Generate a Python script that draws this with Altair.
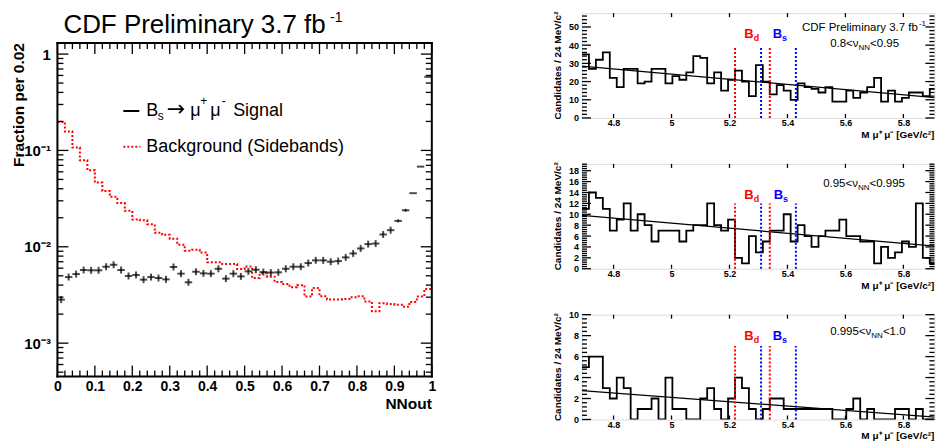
import altair as alt
import pandas as pd

FONT = "Liberation Sans"
RED = "#ff0000"
BLUE = "#0000ff"

# ---------------- left panel: NN output (fraction per 0.02) ----------------
nn_bin_width = 0.02
nn_bin_lo = [round(0.02 * i, 2) for i in range(50)]
signal_frac = [0.00283, 0.00485, 0.00521, 0.00574, 0.0057, 0.0057, 0.00621, 0.00651, 0.00574, 0.00498,
               0.0051, 0.00456, 0.00485, 0.00474, 0.00459, 0.00617, 0.00526, 0.00428, 0.00551, 0.0053,
               0.00526, 0.00591, 0.00467, 0.00526, 0.00493, 0.00556, 0.00578, 0.00547, 0.0054, 0.00543,
               0.00591, 0.00621, 0.00621, 0.00678, 0.00723, 0.00723, 0.0070, 0.00711, 0.00776, 0.00853,
               0.00961, 0.01066, 0.0108, 0.01342, 0.01487, 0.01856, 0.02393, 0.036, 0.0679, 0.58]
background_frac = [0.197, 0.157, 0.107, 0.079, 0.0623, 0.0464, 0.038, 0.033, 0.0284, 0.0236,
                   0.0192, 0.0188, 0.0171, 0.0140, 0.0133, 0.0121, 0.0105, 0.0091, 0.0093, 0.0087,
                   0.00689, 0.00689, 0.00662, 0.00662, 0.00588, 0.00626, 0.00474, 0.0053, 0.0049, 0.0043,
                   0.0041, 0.0038, 0.0040, 0.00304, 0.00374, 0.00306, 0.00283, 0.00283, 0.00287, 0.0030,
                   0.00306, 0.0027, 0.00214, 0.0026, 0.00255, 0.0025, 0.00239, 0.00268, 0.00304, 0.00365]
nn_labels = [0, 0.1, 0.2, 0.3, 0.4, 0.5, 0.6, 0.7, 0.8, 0.9, 1.0]
frac_labels = [0.001, 0.01, 0.1, 1]

# ---------------- right panels: dimuon mass (candidates / 24 MeV) ----------------
mass_bin_start = 4.691
mass_bin_width = 0.024
mass_view = [4.691, 5.907]
counts_080_095 = [35, 27, 32, 36, 22, 17, 27, 27, 19, 20, 27, 27, 19, 23, 21, 25, 34, 33, 19, 25,
                  15, 21, 26, 20, 12, 29, 20, 13, 18, 15, 10, 19, 17, 16, 14, 17, 9, 9, 15, 11,
                  14, 17, 22, 9, 15, 9, 11, 14, 14, 12, 16, 14, 11]
counts_095_0995 = [11, 14, 13, 11, 7, 9, 12, 7, 10, 8, 5, 7, 7, 7, 5, 7, 8, 8, 12, 8,
                   7, 9, 2, 1, 6, 3, 5, 7, 7, 10, 5, 8, 6, 4, 6, 7, 7, 9, 6, 6,
                   5, 5, 1, 4, 2, 3, 5, 4, 12, 2, 1, 7, 5]
counts_0995_1 = [5, 6, 6, 3, 2, 4, 3, 0, 1, 1, 2, 0, 4, 1, 1, 0, 0, 2, 3, 1,
                 0, 2, 4, 3, 1, 0, 1, 2, 2, 1, 1, 1, 1, 1, 1, 1, 0, 0, 1, 2,
                 0, 1, 0, 0, 0, 1, 1, 0, 1, 0, 0, 0, 0]
fit_mass = [4.691, 5.942]
fit_080_095 = [28.5, 10.7]
fit_095_0995 = [9.8, 4.0]
fit_0995_1 = [2.75, 0.15]
bd_window = [5.219, 5.339]
bs_window = [5.309, 5.429]
window_line_top = [39.5, 12.0, 7.0]
mass_labels = [4.8, 5.0, 5.2, 5.4, 5.6, 5.8]
ymax_panels = [57.6, 19.25, 10.0]
ylabels_panels = [[0, 10, 20, 30, 40, 50],
                  [0, 2, 4, 6, 8, 10, 12, 14, 16, 18],
                  [0, 2, 4, 6, 8, 10]]
yminor_step = [2, 0.4, 0.4]
range_text = [("0.8<\u03bd", "<0.95"), ("0.95<\u03bd", "<0.995"), ("0.995<\u03bd", "<1.0")]

ONE = pd.DataFrame({"d": [0]})


def T(s, x, y, size, color="black", bold=False, align="left", angle=None, baseline="alphabetic",
      font=FONT):
    kw = dict(text=s, font=font, fontSize=size, color=color,
              fontWeight="bold" if bold else "normal", align=align, baseline=baseline)
    if angle is not None:
        kw["angle"] = angle
    return alt.Chart(ONE).mark_text(**kw).encode(x=alt.value(x), y=alt.value(y))


def R(x1, x2, y1, y2, color="black", width=2, dash=None, opacity=1, cap="butt"):
    kw = dict(color=color, strokeWidth=width, opacity=opacity, strokeCap=cap)
    if dash:
        kw["strokeDash"] = dash
    return alt.Chart(ONE).mark_rule(**kw).encode(
        x=alt.value(x1), x2=alt.value(x2), y=alt.value(y1), y2=alt.value(y2))


def spacer(x1, x2, y1, y2):
    # invisible rule: only fixes the outer extent of a view for the layout
    return R(x1, x2, y1, y2, width=1, opacity=0)


def xticks(vals, sc, ax, y_bot, y_top, L, w=1.3):
    b = alt.Chart(pd.DataFrame({"t": vals})).mark_rule(color="black", strokeWidth=w)
    return [b.encode(x=alt.X("t:Q", scale=sc, axis=ax), y=alt.value(y_bot), y2=alt.value(y_bot - L)),
            b.encode(x=alt.X("t:Q", scale=sc, axis=ax), y=alt.value(y_top), y2=alt.value(y_top + L))]


def yticks(vals, sc, ax, W, L, w=1.3):
    b = alt.Chart(pd.DataFrame({"t": vals})).mark_rule(color="black", strokeWidth=w)
    return [b.encode(y=alt.Y("t:Q", scale=sc, axis=ax), x=alt.value(0), x2=alt.value(L)),
            b.encode(y=alt.Y("t:Q", scale=sc, axis=ax), x=alt.value(W), x2=alt.value(W - L))]


# ================= left panel =================
# The left view carries a blank band of TOPB px above its frame, so that its frame starts
# lower than the right-hand panels (the concat aligns the view origins of one row).
W1, H1, TOPB = 375, 334, 30
xs1 = alt.Scale(domain=[0, 1], nice=False, zero=False)
ys1 = alt.Scale(type="log", domain=[4.5e-4, 1.3], nice=False, range=[H1 + TOPB, TOPB])
xaxis1 = alt.Axis(values=nn_labels, format=".1~f", labelFont=FONT, labelFontSize=14,
                  labelFontWeight="bold", labelColor="black", labelPadding=3, ticks=False,
                  domain=False, grid=False, title=None, labelFlush=False, labelOverlap=False)
yaxis1 = alt.Axis(values=frac_labels,
                  labelExpr="datum.value > 0.5 ? '1' : datum.value > 0.05 ? '10\u207b\u00b9' : "
                            "datum.value > 0.005 ? '10\u207b\u00b2' : '10\u207b\u00b3'",
                  labelFont=FONT, labelFontSize=15, labelFontWeight="bold", labelColor="black",
                  labelPadding=7, ticks=False, domain=False, grid=False, title=None,
                  labelFlush=False, labelOverlap=False)

bkg_df = pd.DataFrame({"x": nn_bin_lo + [1.0], "v": background_frac + [background_frac[-1]]})
sig_df = pd.DataFrame({"x": [round(lo + nn_bin_width / 2, 3) for lo in nn_bin_lo], "v": signal_frac})

bkg = alt.Chart(bkg_df).mark_line(interpolate="step-after", color=RED, strokeWidth=2,
                                  strokeDash=[2, 2]).encode(
    x=alt.X("x:Q", scale=xs1, axis=xaxis1), y=alt.Y("v:Q", scale=ys1, axis=yaxis1))
sig_h = alt.Chart(sig_df).mark_tick(orient="horizontal", size=7.5, thickness=2, color="black").encode(
    x=alt.X("x:Q", scale=xs1, axis=xaxis1), y=alt.Y("v:Q", scale=ys1, axis=yaxis1))
sig_v = alt.Chart(sig_df).transform_calculate(
    vs="datum.v < 0.016 ? 7 : (datum.v < 0.03 ? 3 : 0)").mark_tick(
    orient="vertical", thickness=2, color="black").encode(
    x=alt.X("x:Q", scale=xs1, axis=xaxis1), y=alt.Y("v:Q", scale=ys1, axis=yaxis1),
    size=alt.Size("vs:Q", scale=None, legend=None))

x1_major = nn_labels
x1_minor = [round(0.02 * i, 2) for i in range(1, 50) if i % 5 != 0]
y1_major = frac_labels
y1_minor = [m * d for d in [1e-4, 1e-3, 1e-2, 1e-1] for m in range(2, 10) if 4.5e-4 < m * d < 1.3]

B = TOPB
left_layers = [bkg, sig_h, sig_v]
left_layers += xticks(x1_major, xs1, xaxis1, H1 + B, B, 11) + xticks(x1_minor, xs1, xaxis1, H1 + B, B, 6)
left_layers += yticks(y1_major, ys1, yaxis1, W1, 11) + yticks(y1_minor, ys1, yaxis1, W1, 6)
left_layers += [
    # frame
    R(0, W1, B, B, cap="square"), R(0, W1, B + H1, B + H1, cap="square"),
    R(0, 0, B, B + H1, cap="square"), R(W1, W1, B, B + H1, cap="square"),
    T("CDF Preliminary 3.7 fb", 6, B - 10.3, 26),
    T("-1", 273, B - 21.2, 14),
    R(66, 82, B + 68, B + 68, width=2),
    T("B", 89, B + 73, 18),
    T("s", 100.5, B + 77.5, 12),
    T("\u2192", 109.5, B + 73, 22, font="DejaVu Sans"),
    T("\u03bc", 133, B + 73, 18),
    T("+", 143, B + 62, 12),
    T("\u03bc", 153, B + 73, 18),
    T("-", 164.5, B + 62, 12),
    T("Signal", 176, B + 73, 18),
    R(66, 83, B + 103.7, B + 103.7, color=RED, width=2, dash=[2, 2]),
    T("Background (Sidebands)", 89, B + 109.5, 18),
    T("Fraction per 0.02", -38.2, B, 15.5, bold=True, align="right", angle=270, baseline="middle"),
    T("NNout", W1, B + 366, 15.5, bold=True, align="right"),
    spacer(0, 1, -9, -9),
    spacer(-51, -51, 100, 101),
    spacer(381, 381, 100, 101),
]
left = alt.layer(*left_layers).properties(
    width=W1, height=H1 + TOPB, view=alt.ViewBackground(stroke="transparent"))

# ================= right panels =================
W2, H2 = 353, 105


def mass_panel(k, counts, fit_vals, texts):
    xs = alt.Scale(domain=mass_view, nice=False, zero=False)
    ys = alt.Scale(domain=[0, ymax_panels[k]], nice=False, zero=True)
    xaxis = alt.Axis(values=mass_labels, format=".1~f", labelFont=FONT, labelFontSize=9,
                     labelFontWeight="bold", labelColor="black", labelPadding=1, ticks=False,
                     domain=False, grid=False, title=None, labelFlush=False, labelOverlap=False)
    yaxis = alt.Axis(values=ylabels_panels[k], format="d", labelFont=FONT, labelFontSize=9,
                     labelFontWeight="bold", labelColor="black", labelPadding=3.5, ticks=False,
                     domain=False, grid=False, title=None, labelFlush=False, labelOverlap=False)
    edges = [round(mass_bin_start + mass_bin_width * j, 3) for j in range(len(counts) + 1)]
    hdf = pd.DataFrame({"m": edges, "n": counts + [counts[-1]]})
    hist = alt.Chart(hdf).mark_line(interpolate="step-after", color="black", strokeWidth=1.8,
                                    clip=True).encode(
        x=alt.X("m:Q", scale=xs, axis=xaxis), y=alt.Y("n:Q", scale=ys, axis=yaxis))
    fit = alt.Chart(pd.DataFrame({"m": fit_mass, "n": fit_vals})).mark_line(
        color="black", strokeWidth=1.2, clip=True).encode(
        x=alt.X("m:Q", scale=xs, axis=xaxis), y=alt.Y("n:Q", scale=ys, axis=yaxis))
    wdf = pd.DataFrame({"m": bd_window + bs_window, "c": ["Bd", "Bd", "Bs", "Bs"],
                        "lo": [0] * 4, "hi": [window_line_top[k]] * 4})
    wl = alt.Chart(wdf).mark_rule(strokeWidth=2, strokeDash=[2, 2]).encode(
        x=alt.X("m:Q", scale=xs, axis=xaxis), y=alt.Y("lo:Q", scale=ys, axis=yaxis), y2="hi:Q",
        color=alt.Color("c:N", scale=alt.Scale(domain=["Bd", "Bs"], range=[RED, BLUE]), legend=None))
    ymaj = ylabels_panels[k]
    step = yminor_step[k]
    ymin = [round(step * i, 2) for i in range(1, int(ymax_panels[k] / step) + 1)
            if all(abs(step * i - v) > 1e-6 for v in ymaj) and step * i < ymax_panels[k]]
    layers = [hist, fit, wl]
    layers += xticks(mass_labels, xs, xaxis, H2, 0, 4)
    layers += yticks(ymaj, ys, yaxis, W2, 9) + yticks(ymin, ys, yaxis, W2, 5)
    layers += texts
    layers += [
        T("Candidates / 24 MeV/c\u00b2", -24, H2 / 2, 10, bold=True, align="center", angle=270,
          baseline="middle"),
        T("M \u03bc\u207a \u03bc\u207b [GeV/c\u00b2]", W2, H2 + 20, 10, bold=True, align="right"),
        spacer(0, 1, -4, -4),
        spacer(0, 1, H2 + 24, H2 + 24),
        spacer(-33, -33, 50, 51),
        spacer(W2 + 2, W2 + 2, 50, 51),
    ]
    return alt.layer(*layers).properties(width=W2, height=H2)


def labels_block(bd_y, bd_x, bs_x, rt, anchor, rt_y):
    a, b = rt
    return [
        T("B", bd_x, bd_y, 13, color=RED, bold=True),
        T("d", bd_x + 9.4, bd_y + 3, 9, color=RED, bold=True),
        T("B", bs_x, bd_y, 13, color=BLUE, bold=True),
        T("s", bs_x + 9.4, bd_y + 3, 9, color=BLUE, bold=True),
        T(a, anchor, rt_y, 11.5, align="right"),
        T("NN", anchor, rt_y + 3, 8),
        T(b, anchor + 11.6, rt_y, 11.5),
    ]


top_texts = labels_block(24.7, 162.6, 191, range_text[0], 277, 34.4) + [
    T("CDF Preliminary 3.7 fb", 220.3, 17.7, 11.5),
    T("-1", 337.5, 12.7, 8),
]
mid_texts = labels_block(35, 162.6, 192, range_text[1], 276.4, 23)
bot_texts = labels_block(25.6, 162.6, 191, range_text[2], 289.8, 20)

top = mass_panel(0, counts_080_095, fit_080_095, top_texts)
mid = mass_panel(1, counts_095_0995, fit_095_0995, mid_texts)
bot = mass_panel(2, counts_0995_1, fit_0995_1, bot_texts)

right = alt.vconcat(top, mid, bot, spacing=16)

chart = alt.hconcat(left, right, spacing=109.4).properties(
    padding={"left": -2.5, "top": -5.2, "right": 0, "bottom": 0}
).configure_view(stroke="black", strokeWidth=2).configure(background="white")

chart.save("out.html", embed_options={"renderer": "svg", "actions": False})
